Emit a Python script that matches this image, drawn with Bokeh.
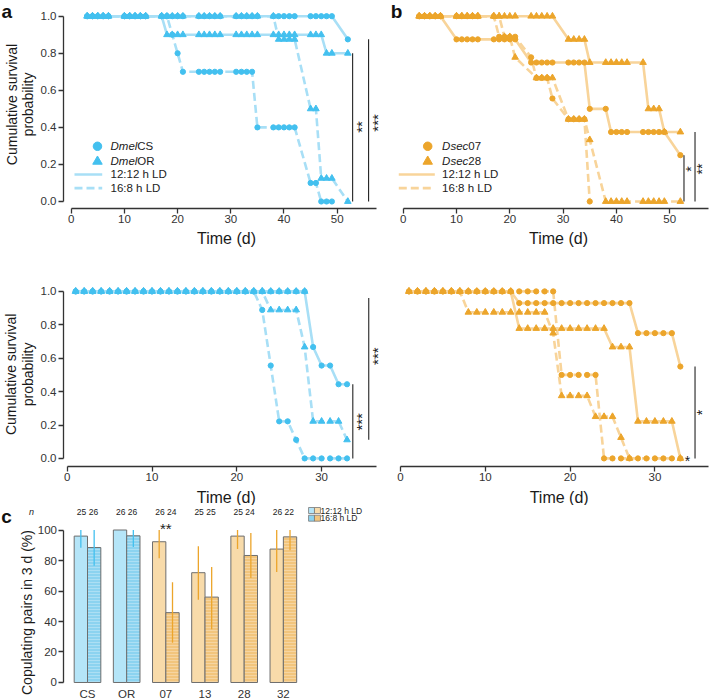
import math
from bokeh.plotting import figure
from bokeh.layouts import column, row
from bokeh.models import Range1d, FixedTicker, Label, PrintfTickFormatter
from bokeh.embed import file_html
from bokeh.resources import INLINE
from bokeh.core.properties import value

FONT = "Liberation Sans"
INK = "#333333"
BLUE = "#43c0ef"
BLUE_LN = "#a8dff6"
ORANGE = "#eca52b"
ORANGE_LN = "#f8d49a"

# ---------------- Panel a/b (top): long observation, observation days ----------------
TOP_DAYS = [3, 4, 5, 6, 7, 10, 11, 12, 13, 14, 17, 18, 19, 20, 21, 24, 25, 26, 27, 28,
            31, 32, 33, 34, 35, 38, 39, 40, 41, 42, 45, 46, 47, 48, 49, 52]

A_CS_1212 = [1.0, 1.0, 1.0, 1.0, 1.0, 1.0, 1.0, 1.0, 1.0, 1.0, 1.0, 1.0, 1.0, 1.0, 1.0,
             1.0, 1.0, 1.0, 1.0, 1.0, 1.0, 1.0, 1.0, 1.0, 1.0, 1.0, 1.0, 1.0, 1.0, 1.0,
             1.0, 1.0, 1.0, 1.0, 1.0, 0.875]
A_OR_1212 = [1.0, 1.0, 1.0, 1.0, 1.0, 1.0, 1.0, 1.0, 1.0, 1.0, 1.0, 0.9, 0.9, 0.9, 0.9,
             0.9, 0.9, 0.9, 0.9, 0.9, 0.9, 0.9, 0.9, 0.9, 0.9, 0.9, 0.9, 0.9, 0.9, 0.9,
             0.9, 0.9, 0.9, 0.8, 0.8, 0.8]
A_CS_168_DAYS = [3, 4, 5, 6, 7, 10, 11, 12, 13, 14, 17, 18, 19, 20, 21, 24, 25, 26, 27, 28,
                 31, 32, 33, 34, 35, 38, 39, 40, 41, 42, 45, 46, 47, 48, 49]
A_CS_168 = [1.0, 1.0, 1.0, 1.0, 1.0, 1.0, 1.0, 1.0, 1.0, 1.0, 1.0, 1.0, 0.9, 0.8, 0.7,
            0.7, 0.7, 0.7, 0.7, 0.7, 0.7, 0.7, 0.7, 0.7, 0.4, 0.4, 0.4, 0.4, 0.4, 0.4,
            0.1, 0.1, 0.0, 0.0, 0.0]
A_OR_168 = [1.0, 1.0, 1.0, 1.0, 1.0, 1.0, 1.0, 1.0, 1.0, 1.0, 1.0, 1.0, 1.0, 1.0, 1.0,
            1.0, 1.0, 1.0, 1.0, 1.0, 1.0, 1.0, 1.0, 1.0, 1.0, 1.0, 0.875, 0.875, 0.875, 0.875,
            0.5, 0.5, 0.125, 0.125, 0.125, 0.0]

B_07_1212 = [1.0, 1.0, 1.0, 1.0, 1.0, 0.875, 0.875, 0.875, 0.875, 0.875, 0.875, 0.875,
             0.875, 0.875, 0.875, 0.75, 0.75, 0.75, 0.75, 0.75, 0.75, 0.75, 0.75, 0.75,
             0.5, 0.5, 0.375, 0.375, 0.375, 0.375, 0.375, 0.375, 0.375, 0.375, 0.375, 0.25]
B_28_1212 = [1.0, 1.0, 1.0, 1.0, 1.0, 1.0, 1.0, 1.0, 1.0, 1.0, 1.0, 1.0, 1.0, 1.0, 1.0,
             1.0, 1.0, 1.0, 1.0, 1.0, 0.875, 0.875, 0.875, 0.875, 0.75, 0.75, 0.75, 0.75,
             0.75, 0.75, 0.75, 0.5, 0.5, 0.5, 0.375, 0.375]
B_07_168_DAYS = [3, 4, 5, 6, 7, 10, 11, 12, 13, 14, 17, 18, 19, 20, 21, 24, 25, 26, 27, 28,
                 31, 32, 33, 34, 35]
B_07_168 = [1.0, 1.0, 1.0, 1.0, 1.0, 1.0, 1.0, 1.0, 1.0, 1.0, 1.0, 0.889, 0.889, 0.889,
            0.889, 0.778, 0.667, 0.667, 0.667, 0.556, 0.444, 0.444, 0.444, 0.444, 0.0]
B_28_168_DAYS = [3, 4, 5, 6, 7, 10, 11, 12, 13, 14, 17, 18, 19, 20, 21, 25, 26, 27, 28,
                 31, 32, 33, 34, 35, 38, 39, 40, 41, 42, 45, 46, 47, 48, 49, 52]
B_28_168 = [1.0, 1.0, 1.0, 1.0, 1.0, 1.0, 1.0, 1.0, 1.0, 1.0, 1.0, 1.0, 0.889, 0.889,
            0.778, 0.667, 0.667, 0.667, 0.667, 0.444, 0.444, 0.444, 0.444, 0.333,
            0.0, 0.0, 0.0, 0.0, 0.0, 0.0, 0.0, 0.0, 0.0, 0.0, 0.0]

# ---------------- Bottom row: daily observation ----------------
BOT_DAYS = [1, 2, 3, 4, 5, 6, 7, 8, 9, 10, 11, 12, 13, 14, 15, 16, 17, 18, 19, 20, 21,
            22, 23, 24, 25, 26, 27, 28, 29, 30, 31, 32, 33]

C_CS_1212 = [1.0, 1.0, 1.0, 1.0, 1.0, 1.0, 1.0, 1.0, 1.0, 1.0, 1.0, 1.0, 1.0, 1.0, 1.0,
             1.0, 1.0, 1.0, 1.0, 1.0, 1.0, 1.0, 1.0, 1.0, 1.0, 1.0, 1.0, 1.0,
             0.667, 0.556, 0.556, 0.444, 0.444]
C_OR_1212_DAYS = [1, 2, 3, 4, 5, 6, 7, 8, 9, 10, 11, 12, 13, 14, 15, 16, 17, 18, 19, 20,
                  21, 22, 23, 24, 25, 26, 27, 28]
C_OR_1212 = [1.0, 1.0, 1.0, 1.0, 1.0, 1.0, 1.0, 1.0, 1.0, 1.0, 1.0, 1.0, 1.0, 1.0, 1.0,
             1.0, 1.0, 1.0, 1.0, 1.0, 1.0, 1.0, 1.0, 1.0, 1.0, 1.0, 1.0, 1.0]
C_CS_168 = [1.0, 1.0, 1.0, 1.0, 1.0, 1.0, 1.0, 1.0, 1.0, 1.0, 1.0, 1.0, 1.0, 1.0, 1.0,
            1.0, 1.0, 1.0, 1.0, 1.0, 1.0, 1.0, 0.889, 0.556, 0.222, 0.222, 0.111,
            0.0, 0.0, 0.0, 0.0, 0.0, 0.0]
C_OR_168 = [1.0, 1.0, 1.0, 1.0, 1.0, 1.0, 1.0, 1.0, 1.0, 1.0, 1.0, 1.0, 1.0, 1.0, 1.0,
            1.0, 1.0, 1.0, 1.0, 1.0, 1.0, 1.0, 1.0, 0.889, 0.889, 0.889, 0.889, 0.667,
            0.222, 0.222, 0.222, 0.222, 0.111]

D_07_1212 = [1.0, 1.0, 1.0, 1.0, 1.0, 1.0, 1.0, 1.0, 1.0, 1.0, 1.0, 1.0, 1.0,
             0.93, 0.93, 0.93, 0.93, 0.93, 0.93, 0.93, 0.93, 0.93, 0.93, 0.93, 0.93, 0.93, 0.93,
             0.75, 0.75, 0.75, 0.75, 0.75, 0.55]
D_28_1212 = [1.0, 1.0, 1.0, 1.0, 1.0, 1.0, 1.0, 1.0, 1.0, 1.0, 1.0, 1.0, 1.0,
             0.778, 0.778, 0.778, 0.778, 0.778, 0.778, 0.778, 0.778, 0.778, 0.778, 0.778,
             0.667, 0.667, 0.667, 0.222, 0.222, 0.222, 0.222, 0.222, 0.0]
D_07_168 = [1.0, 1.0, 1.0, 1.0, 1.0, 1.0, 1.0, 1.0, 1.0, 1.0, 1.0, 1.0, 1.0, 1.0, 1.0,
            1.0, 1.0, 1.0, 0.5, 0.5, 0.5, 0.5, 0.5, 0.0, 0.0, 0.0, 0.0, 0.0, 0.0, 0.0,
            0.0, 0.0, 0.0]
D_28_168_DAYS = [1, 2, 3, 4, 5, 6, 7, 8, 9, 10, 11, 12, 13, 14, 15, 16, 17, 18, 19, 20,
                 21, 22, 23, 24, 25, 26, 27]
D_28_168 = [1.0, 1.0, 1.0, 1.0, 1.0, 1.0, 1.0, 0.875, 0.875, 0.875, 0.875, 0.875, 0.875,
            0.875, 0.875, 0.875, 0.875, 0.75, 0.375, 0.375, 0.375, 0.375, 0.25, 0.25, 0.25,
            0.125, 0.0]

SURV_YTICKS = [0.0, 0.2, 0.4, 0.6, 0.8, 1.0]
TOP_XTICKS = [0, 10, 20, 30, 40, 50]
BOT_XTICKS = [0, 10, 20, 30]

# ---------------- Panel c ----------------
GROUPS = ["CS", "OR", "07", "13", "28", "32"]
SPECIES = ["Dmel", "Dmel", "Dsec", "Dsec", "Dsec", "Dsec"]
N_1212 = [25, 26, 26, 25, 25, 26]
N_168 = [26, 26, 24, 25, 24, 22]
PCT_1212 = [96.0, 100.0, 92.3, 72.0, 96.0, 87.5]
PCT_168 = [88.5, 96.2, 45.8, 56.0, 83.3, 95.5]
LO_1212 = [88.3, 100.0, 81.5, 54.2, 87.5, 72.5]
HI_1212 = [100.0, 100.0, 100.0, 89.3, 100.0, 100.0]
LO_168 = [76.5, 88.8, 26.0, 35.0, 68.5, 86.8]
HI_168 = [100.0, 100.0, 65.8, 75.8, 98.0, 100.0]
C_YTICKS = [0, 20, 40, 60, 80, 100]

ROT = math.pi / 2


def style_axis(ax):
    ax.axis_line_color = INK
    ax.axis_line_width = 1.3
    ax.major_tick_line_color = INK
    ax.major_tick_line_width = 1.3
    ax.major_tick_out = 5
    ax.major_tick_in = 0
    ax.minor_tick_line_color = None
    ax.major_label_text_font = FONT
    ax.major_label_text_font_size = "11.5px"
    ax.major_label_text_color = INK
    ax.major_label_standoff = 2


def make_fig(w, h, xr, yr, left_axis=True):
    p = figure(width=w, height=h, x_range=Range1d(*xr), y_range=Range1d(*yr),
               output_backend="svg", toolbar_location=None,
               y_axis_location="left" if left_axis else None,
               min_border_left=0, min_border_right=0, min_border_top=0, min_border_bottom=0)
    p.grid.visible = False
    p.outline_line_color = None
    return p


def surv_fig(w, h, xr, yr, left_axis, x_at, y_at, xticks, xbound):
    p = make_fig(w, h, xr, yr, left_axis)
    style_axis(p.xaxis)
    p.xaxis.ticker = FixedTicker(ticks=xticks)
    p.xaxis.bounds = xbound
    p.xaxis.fixed_location = y_at
    if left_axis:
        style_axis(p.yaxis)
        p.yaxis.ticker = FixedTicker(ticks=SURV_YTICKS)
        p.yaxis.formatter = PrintfTickFormatter(format="%.1f")
        p.yaxis.bounds = (0, 1)
        p.yaxis.fixed_location = x_at
    return p


def draw_km(p, series):
    for s in series:
        p.line(s[0], s[1], line_color=s[2], line_width=2.6, line_dash=s[4])
    for mk, sz in (("circle", 5.2), ("triangle", 6.6)):
        for s in series:
            if s[5] == mk:
                p.scatter(s[0], s[1], marker=mk, size=sz, color=s[3])


def txt(p, x, y, t, size="11.5px", style="normal", align="left", x_offset=0, color="#222222"):
    p.text([x], [y], [t], text_font=value(FONT), text_font_size=size,
           text_font_style=style, text_align=align, text_baseline="middle",
           x_offset=x_offset, text_color=color)


def draw_legend(p, mx, lx, tx, names, mc, lc, ital_w):
    ys = [0.298, 0.216, 0.146, 0.072]
    p.scatter([mx], [ys[0]], marker="circle", size=8.5, color=mc)
    p.scatter([mx], [ys[1]], marker="triangle", size=9.5, color=mc)
    p.line(lx, [ys[2], ys[2]], line_color=lc, line_width=2.6)
    p.line(lx, [ys[3], ys[3]], line_color=lc, line_width=2.6, line_dash="8 4")
    for (it, rest), y in zip(names, ys[:2]):
        txt(p, tx, y, it, style="italic")
        txt(p, tx, y, rest, x_offset=ital_w)
    for lab_t, y in zip(["12:12 h LD", "16:8 h LD"], ys[2:]):
        txt(p, tx, y, lab_t)


def lab(p, x, y, t, size="14px", angle=0.0, style="normal", color="#1a1a1a", baseline="middle"):
    p.add_layout(Label(x=x, y=y, text=t, angle=angle, text_font=FONT, text_font_size=size,
                       text_font_style=style, text_align="center", text_baseline=baseline,
                       text_color=color))


def sig(p, x, y0, y1):
    p.segment(x0=[x], y0=[y0], x1=[x], y1=[y1], line_color="#222222", line_width=1.1)


# ---------- Panel a, top (canvas x 0..388, y 0..268) ----------
pa = surv_fig(388, 268, (-13.289, 59.643), (-0.3616, 1.0847), True, -1.447, -0.0378,
              TOP_XTICKS, (0, 57.3))
draw_km(pa, [
    (TOP_DAYS, A_CS_1212, BLUE_LN, BLUE, "solid", "circle"),
    (A_CS_168_DAYS, A_CS_168, BLUE_LN, BLUE, "8 4", "circle"),
    (TOP_DAYS, A_OR_1212, BLUE_LN, BLUE, "solid", "triangle"),
    (TOP_DAYS, A_OR_168, BLUE_LN, BLUE, "8 4", "triangle"),
])
draw_legend(pa, 4.94, [0.62, 5.83], 7.39, [("Dmel", "CS"), ("Dmel", "OR")], BLUE, BLUE_LN, 26.8)
sig(pa, 52.9, A_OR_1212[-1], A_OR_168[-1])
sig(pa, 55.9, A_CS_1212[-1], A_CS_168[-1])
lab(pa, 54.62, 0.402, "**", size="15px", angle=ROT)
lab(pa, 57.58, 0.424, "***", size="15px", angle=ROT)
lab(pa, -11.22, 0.5235, "Cumulative survival", size="14px", angle=ROT)
lab(pa, -8.21, 0.5235, "probability", size="14px", angle=ROT)
txt(pa, 29.19, -0.1997, "Time (d)", size="16px", align="center", color="#1a1a1a")
lab(pa, -12.1, 1.082, "a", size="19px", style="bold", color="#111111", baseline="top")

# ---------- Panel b, top (canvas x 388..712) ----------
pb = surv_fig(324, 268, (-2.758, 58.03), (-0.3616, 1.0847), False, None, -0.0378,
              TOP_XTICKS, (0, 57.28))
draw_km(pb, [
    (TOP_DAYS, B_07_1212, ORANGE_LN, ORANGE, "solid", "circle"),
    (B_07_168_DAYS, B_07_168, ORANGE_LN, ORANGE, "8 4", "circle"),
    (TOP_DAYS, B_28_1212, ORANGE_LN, ORANGE, "solid", "triangle"),
    (B_28_168_DAYS, B_28_168, ORANGE_LN, ORANGE, "8 4", "triangle"),
])
draw_legend(pb, 4.6, [-0.83, 5.93], 7.3, [("Dsec", "07"), ("Dsec", "28")], ORANGE, ORANGE_LN, 26.2)
sig(pb, 52.68, B_07_1212[-1], B_07_168[-1])
sig(pb, 54.75, B_28_1212[-1], B_28_168[-1])
lab(pb, 54.09, 0.175, "*", size="14px", angle=ROT)
lab(pb, 56.15, 0.175, "**", size="14px", angle=ROT)
txt(pb, 29.14, -0.1997, "Time (d)", size="16px", align="center", color="#1a1a1a")
lab(pb, -1.26, 1.082, "b", size="19px", style="bold", color="#111111", baseline="top")

# ---------- Panel a, bottom (canvas x 0..388, y 268..505) ----------
pc = surv_fig(388, 237, (-7.866, 37.889), (-0.282, 1.1371), True, -0.436, -0.0465,
              BOT_XTICKS, (0, 36.5))
draw_km(pc, [
    (C_OR_1212_DAYS, C_OR_1212, BLUE_LN, BLUE, "solid", "triangle"),
    (BOT_DAYS, C_CS_1212, BLUE_LN, BLUE, "solid", "circle"),
    (BOT_DAYS, C_CS_168, BLUE_LN, BLUE, "8 4", "circle"),
    (BOT_DAYS, C_OR_168, BLUE_LN, BLUE, "8 4", "triangle"),
])
sig(pc, 33.68, C_CS_1212[-1], C_CS_168[-1])
sig(pc, 35.56, 0.96, C_OR_168[-1])
lab(pc, 34.74, 0.219, "***", size="15px", angle=ROT)
lab(pc, 36.59, 0.612, "***", size="15px", angle=ROT)
lab(pc, -6.57, 0.503, "Cumulative survival", size="14px", angle=ROT)
lab(pc, -4.68, 0.503, "probability", size="14px", angle=ROT)
txt(pc, 18.76, -0.2319, "Time (d)", size="16px", align="center", color="#1a1a1a")

# ---------- Panel b, bottom (canvas x 388..712) ----------
pd = surv_fig(324, 237, (-1.415, 36.79), (-0.282, 1.1371), False, None, -0.0465,
              BOT_XTICKS, (0, 36.36))
draw_km(pd, [
    (BOT_DAYS, D_07_1212, ORANGE_LN, ORANGE, "solid", "circle"),
    (BOT_DAYS, D_07_168, ORANGE_LN, ORANGE, "8 4", "circle"),
    (BOT_DAYS, D_28_1212, ORANGE_LN, ORANGE, "solid", "triangle"),
    (D_28_168_DAYS, D_28_168, ORANGE_LN, ORANGE, "8 4", "triangle"),
])
sig(pd, 34.73, D_07_1212[-1], D_07_168[-1])
lab(pd, 35.61, 0.275, "*", size="14px", angle=ROT)
lab(pd, 33.84, -0.018, "*", size="14px")
txt(pd, 18.71, -0.2319, "Time (d)", size="16px", align="center", color="#1a1a1a")

# ---------- Panel c (canvas x 0..388, y 505..699) ----------
pe = make_fig(388, 194, (-2.221, 7.684), (-11.15, 116.07))
style_axis(pe.yaxis)
style_axis(pe.xaxis)
pe.yaxis.ticker = FixedTicker(ticks=C_YTICKS)
pe.yaxis.bounds = (0, 100)
pe.yaxis.fixed_location = -0.6
pe.xaxis.ticker = FixedTicker(ticks=list(range(len(GROUPS))))
pe.xaxis.major_label_overrides = {i: g for i, g in enumerate(GROUPS)}
pe.xaxis.axis_line_color = None
pe.xaxis.major_tick_line_color = None
pe.xaxis.major_label_standoff = 1
pe.xaxis.fixed_location = 0

FILL_L = {"Dmel": "#b5e5f8", "Dsec": "#f8dbaa"}
FILL_D = {"Dmel": "#8cd3f0", "Dsec": "#f2c57d"}
ERR = {"Dmel": BLUE, "Dsec": ORANGE}
xs = list(range(len(GROUPS)))
BW = 0.34
x_l = [x - BW / 2 for x in xs]
x_r = [x + BW / 2 for x in xs]
pe.vbar(x=x_l, top=PCT_1212, bottom=0, width=BW, fill_color=[FILL_L[s] for s in SPECIES],
        line_color="#6e6e6e", line_width=1)
pe.vbar(x=x_r, top=PCT_168, bottom=0, width=BW, fill_color=[FILL_D[s] for s in SPECIES],
        line_color="#6e6e6e", line_width=1, hatch_pattern="horizontal_line",
        hatch_color="white", hatch_alpha=0.35, hatch_scale=3.0, hatch_weight=0.8)
pe.segment(x0=x_l, y0=LO_1212, x1=x_l, y1=HI_1212, line_color=[ERR[s] for s in SPECIES],
           line_width=1.3)
pe.segment(x0=x_r, y0=LO_168, x1=x_r, y1=HI_168, line_color=[ERR[s] for s in SPECIES],
           line_width=1.3)
pe.text(x=xs, y=[111.67] * len(xs), text=[f"{a} {b}" for a, b in zip(N_1212, N_168)],
        text_font=value(FONT), text_font_size="8.5px", text_align="center",
        text_baseline="middle", text_color="#222222")
pe.text(x=[2], y=[100.66], text=["**"], text_font=value(FONT), text_font_size="15px",
        text_align="center", text_baseline="middle", text_color="#222222")
leg_y = [112.79, 107.74]
pe.scatter([5.72, 5.72], leg_y, marker="square", size=6,
           fill_color=[FILL_L["Dmel"], FILL_D["Dmel"]], line_color="#777777", line_width=0.8)
pe.scatter([5.87, 5.87], leg_y, marker="square", size=6,
           fill_color=[FILL_L["Dsec"], FILL_D["Dsec"]], line_color="#777777", line_width=0.8)
for t, y in zip(["12:12 h LD", "16:8 h LD"], leg_y):
    txt(pe, 5.95, y, t, size="8.5px")
lab(pe, -1.557, 45.9, "Copulating pairs in 3 d (%)", size="14px", angle=ROT)
lab(pe, -1.43, 111.67, "n", size="9px", style="italic", color="#222222")
lab(pe, -2.07, 115.74, "c", size="19px", style="bold", color="#111111", baseline="top")

layout = column(row(pa, pb), row(pc, pd), pe)
open("out.html", "w").write(file_html(layout, INLINE))
